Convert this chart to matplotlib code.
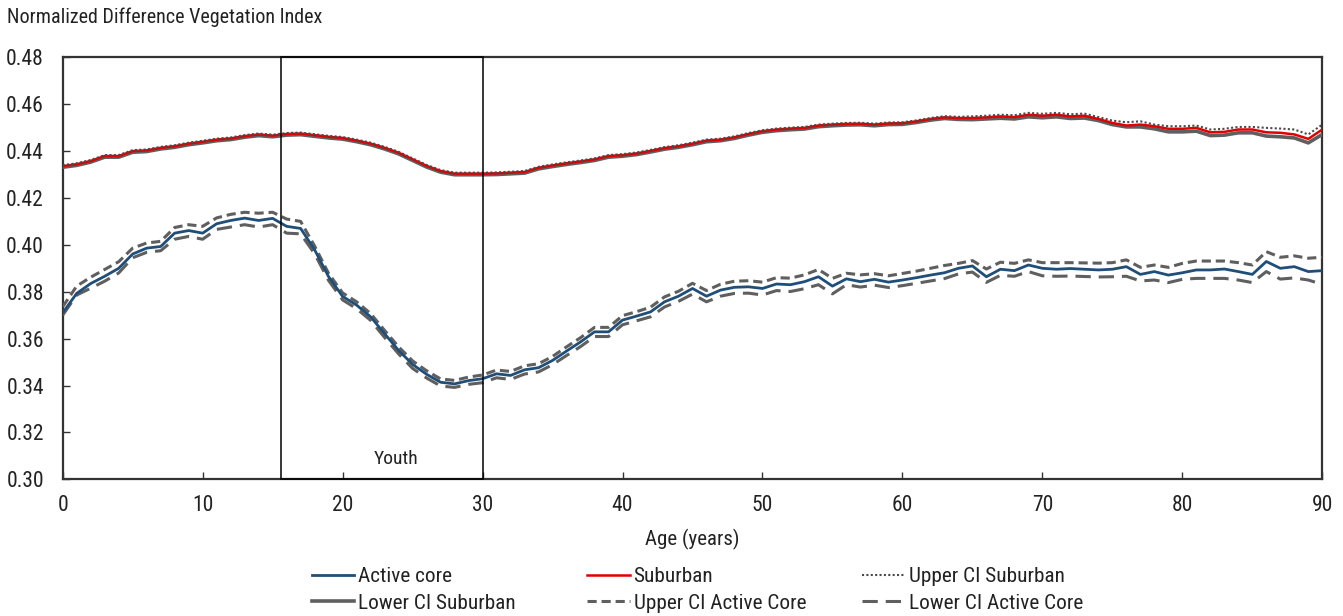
import matplotlib
matplotlib.use("Agg")
import matplotlib.pyplot as plt
from matplotlib.patches import Rectangle

ages = list(range(0, 91))

active_core = [
    0.3710, 0.3793, 0.3835, 0.3866, 0.3900, 0.3961, 0.3986, 0.3993, 0.4050, 0.4061,
    0.4050, 0.4090, 0.4104, 0.4114, 0.4104, 0.4113, 0.4079, 0.4070, 0.3979, 0.3864,
    0.3780, 0.3743, 0.3693, 0.3621, 0.3550, 0.3490, 0.3448, 0.3414, 0.3407, 0.3421,
    0.3429, 0.3450, 0.3443, 0.3467, 0.3476, 0.3507, 0.3547, 0.3586, 0.3629, 0.3629,
    0.3679, 0.3696, 0.3714, 0.3757, 0.3781, 0.3814, 0.3781, 0.3807, 0.3819, 0.3821,
    0.3814, 0.3833, 0.3830, 0.3843, 0.3864, 0.3824, 0.3855, 0.3843, 0.3853, 0.3841,
    0.3850, 0.3860, 0.3871, 0.3881, 0.3900, 0.3910, 0.3864, 0.3896, 0.3890, 0.3914,
    0.3900, 0.3896, 0.3899, 0.3896, 0.3893, 0.3896, 0.3907, 0.3874, 0.3886, 0.3871,
    0.3881, 0.3893, 0.3893, 0.3897, 0.3886, 0.3874, 0.3929, 0.3900, 0.3907, 0.3886,
    0.3890]

upper_ci_active = [
    0.3736, 0.3824, 0.3862, 0.3895, 0.3928, 0.3986, 0.4008, 0.4015, 0.4074, 0.4086,
    0.4079, 0.4115, 0.4130, 0.4139, 0.4135, 0.4139, 0.4110, 0.4100, 0.3995, 0.3878,
    0.3795, 0.3757, 0.3707, 0.3635, 0.3565, 0.3505, 0.3463, 0.3428, 0.3422, 0.3436,
    0.3445, 0.3466, 0.3460, 0.3484, 0.3493, 0.3524, 0.3565, 0.3604, 0.3648, 0.3648,
    0.3698, 0.3715, 0.3734, 0.3778, 0.3802, 0.3836, 0.3805, 0.3832, 0.3845, 0.3847,
    0.3841, 0.3860, 0.3858, 0.3872, 0.3895, 0.3857, 0.3879, 0.3872, 0.3877, 0.3868,
    0.3878, 0.3888, 0.3900, 0.3912, 0.3921, 0.3933, 0.3897, 0.3926, 0.3921, 0.3936,
    0.3924, 0.3924, 0.3924, 0.3923, 0.3922, 0.3924, 0.3936, 0.3904, 0.3914, 0.3904,
    0.3921, 0.3931, 0.3931, 0.3931, 0.3924, 0.3914, 0.3971, 0.3947, 0.3953, 0.3943,
    0.3947]

lower_ci_active = [
    0.3700, 0.3786, 0.3815, 0.3845, 0.3880, 0.3945, 0.3968, 0.3975, 0.4024, 0.4036,
    0.4024, 0.4066, 0.4076, 0.4086, 0.4076, 0.4086, 0.4050, 0.4047, 0.3962, 0.3848,
    0.3765, 0.3728, 0.3678, 0.3605, 0.3535, 0.3473, 0.3432, 0.3398, 0.3392, 0.3405,
    0.3412, 0.3433, 0.3426, 0.3449, 0.3458, 0.3489, 0.3528, 0.3566, 0.3609, 0.3609,
    0.3659, 0.3676, 0.3693, 0.3735, 0.3759, 0.3790, 0.3757, 0.3781, 0.3793, 0.3794,
    0.3786, 0.3805, 0.3801, 0.3813, 0.3830, 0.3791, 0.3830, 0.3820, 0.3828, 0.3818,
    0.3826, 0.3836, 0.3846, 0.3856, 0.3876, 0.3884, 0.3840, 0.3870, 0.3866, 0.3886,
    0.3868, 0.3866, 0.3867, 0.3865, 0.3863, 0.3864, 0.3866, 0.3846, 0.3850, 0.3839,
    0.3853, 0.3857, 0.3857, 0.3857, 0.3850, 0.3839, 0.3886, 0.3854, 0.3859, 0.3850,
    0.3831]

suburban = [
    0.4336, 0.4344, 0.4358, 0.4379, 0.4379, 0.4400, 0.4403, 0.4414, 0.4421, 0.4432,
    0.4440, 0.4449, 0.4454, 0.4464, 0.4471, 0.4466, 0.4473, 0.4475, 0.4468, 0.4461,
    0.4456, 0.4445, 0.4432, 0.4414, 0.4393, 0.4365, 0.4337, 0.4315, 0.4304, 0.4304,
    0.4304, 0.4305, 0.4308, 0.4311, 0.4329, 0.4339, 0.4348, 0.4356, 0.4365, 0.4379,
    0.4383, 0.4390, 0.4401, 0.4413, 0.4421, 0.4432, 0.4445, 0.4449, 0.4459, 0.4473,
    0.4485, 0.4492, 0.4496, 0.4499, 0.4509, 0.4513, 0.4516, 0.4517, 0.4513, 0.4518,
    0.4519, 0.4527, 0.4537, 0.4544, 0.4541, 0.4541, 0.4544, 0.4548, 0.4545, 0.4555,
    0.4551, 0.4555, 0.4548, 0.4551, 0.4537, 0.4520, 0.4509, 0.4513, 0.4506, 0.4495,
    0.4495, 0.4499, 0.4480, 0.4482, 0.4492, 0.4492, 0.4480, 0.4478, 0.4471, 0.4452,
    0.4492]

upper_ci_suburban = [
    0.4340, 0.4348, 0.4362, 0.4383, 0.4383, 0.4404, 0.4407, 0.4418, 0.4425, 0.4436,
    0.4444, 0.4453, 0.4458, 0.4468, 0.4475, 0.4470, 0.4477, 0.4479, 0.4472, 0.4465,
    0.4460, 0.4449, 0.4436, 0.4418, 0.4397, 0.4369, 0.4341, 0.4319, 0.4308, 0.4308,
    0.4308, 0.4309, 0.4312, 0.4315, 0.4333, 0.4343, 0.4352, 0.4360, 0.4369, 0.4383,
    0.4387, 0.4394, 0.4405, 0.4417, 0.4425, 0.4436, 0.4449, 0.4453, 0.4463, 0.4477,
    0.4489, 0.4496, 0.4500, 0.4503, 0.4513, 0.4517, 0.4520, 0.4521, 0.4517, 0.4522,
    0.4523, 0.4531, 0.4541, 0.4549, 0.4546, 0.4548, 0.4551, 0.4555, 0.4553, 0.4563,
    0.4559, 0.4563, 0.4557, 0.4560, 0.4545, 0.4530, 0.4523, 0.4527, 0.4513, 0.4506,
    0.4506, 0.4509, 0.4492, 0.4495, 0.4503, 0.4503, 0.4499, 0.4496, 0.4492, 0.4471,
    0.4513]

lower_ci_suburban = [
    0.4331, 0.4339, 0.4353, 0.4374, 0.4374, 0.4395, 0.4398, 0.4409, 0.4416, 0.4427,
    0.4435, 0.4444, 0.4449, 0.4459, 0.4466, 0.4461, 0.4468, 0.4470, 0.4463, 0.4456,
    0.4451, 0.4440, 0.4427, 0.4409, 0.4388, 0.4360, 0.4332, 0.4310, 0.4299, 0.4299,
    0.4299, 0.4300, 0.4303, 0.4306, 0.4324, 0.4334, 0.4343, 0.4351, 0.4360, 0.4374,
    0.4378, 0.4385, 0.4396, 0.4408, 0.4416, 0.4427, 0.4440, 0.4444, 0.4454, 0.4468,
    0.4480, 0.4487, 0.4491, 0.4494, 0.4504, 0.4508, 0.4511, 0.4512, 0.4508, 0.4513,
    0.4514, 0.4522, 0.4532, 0.4539, 0.4535, 0.4534, 0.4537, 0.4540, 0.4537, 0.4546,
    0.4542, 0.4546, 0.4539, 0.4541, 0.4530, 0.4513, 0.4503, 0.4503, 0.4495, 0.4482,
    0.4482, 0.4485, 0.4466, 0.4468, 0.4478, 0.4478, 0.4464, 0.4461, 0.4456, 0.4435,
    0.4471]

youth_start, youth_end = 15.6, 30
x_ticks = [0, 10, 20, 30, 40, 50, 60, 70, 80, 90]
y_ticks = [0.30, 0.32, 0.34, 0.36, 0.38, 0.40, 0.42, 0.44, 0.46, 0.48]

FONT = ['Roboto Condensed', 'Liberation Sans', 'DejaVu Sans']
plt.rcParams['font.family'] = FONT
TXT = '#222222'

W, H = 1343, 616
fig = plt.figure(figsize=(W / 100, H / 100), dpi=100)
ax = fig.add_axes([62.7 / W, 1 - 479.3 / H, (1322.3 - 62.7) / W, (479.3 - 57.3) / H])

GRAY = '#5f5f5f'
BLUE = '#1f4e79'
RED = '#e00000'

l_lsub, = ax.plot(ages, lower_ci_suburban, color=GRAY, lw=2.6, label='Lower CI Suburban', zorder=3)
l_sub, = ax.plot(ages, suburban, color=RED, lw=1.8, label='Suburban', zorder=4)
l_usub, = ax.plot(ages, upper_ci_suburban, color='#4a4a4a', lw=1.5, linestyle=(0, (1, 1.1)),
                  label='Upper CI Suburban', zorder=5)
l_uact, = ax.plot(ages, upper_ci_active, color=GRAY, lw=2.2, linestyle=(0, (3.0, 1.6)),
                  label='Upper CI Active Core', zorder=3)
l_lact, = ax.plot(ages, lower_ci_active, color=GRAY, lw=2.2, linestyle=(0, (5.0, 2.6)),
                  label='Lower CI Active Core', zorder=3)
l_act, = ax.plot(ages, active_core, color=BLUE, lw=2.0, label='Active core', zorder=4)

ax.add_patch(Rectangle((youth_start, 0.30), youth_end - youth_start, 0.18,
                       fill=False, edgecolor='black', lw=1.1, zorder=6, clip_on=False))
ax.text(23.85, 0.3087, 'Youth', ha='center', va='center', fontsize=14, color=TXT)

ax.set_xlim(0, 90)
ax.set_ylim(0.30, 0.48)
ax.set_xticks(x_ticks)
ax.set_yticks(y_ticks)
ax.set_yticklabels([f'{v:.2f}' for v in y_ticks])
ax.tick_params(direction='in', length=5, width=1, colors='#333333', labelcolor=TXT,
               labelsize=15.5)
ax.tick_params(axis='x', pad=11.5)
ax.tick_params(axis='y', pad=13.5)
for s in ax.spines.values():
    s.set_color('#333333')
    s.set_linewidth(1.6)

ax.set_xlabel('Age (years)', fontsize=15, color=TXT, labelpad=9)
fig.text(7.3 / W, 1 - 17 / H, 'Normalized Difference Vegetation Index', fontsize=14.5,
         color=TXT, ha='left', va='center')

columns = [([l_act, l_lsub], 311.7), ([l_sub, l_uact], 587), ([l_usub, l_lact], 862)]
for hs, xpx in columns:
    leg = fig.legend(handles=hs, labels=[h.get_label() for h in hs], ncol=1,
                     loc='center left', bbox_to_anchor=(xpx / W, 1 - 590 / H),
                     frameon=False, fontsize=15.3, handlelength=2.0, handletextpad=0.19,
                     labelspacing=0.36, borderpad=0, borderaxespad=0)
    for t in leg.get_texts():
        t.set_color(TXT)

fig.savefig('out.png', dpi=100)
